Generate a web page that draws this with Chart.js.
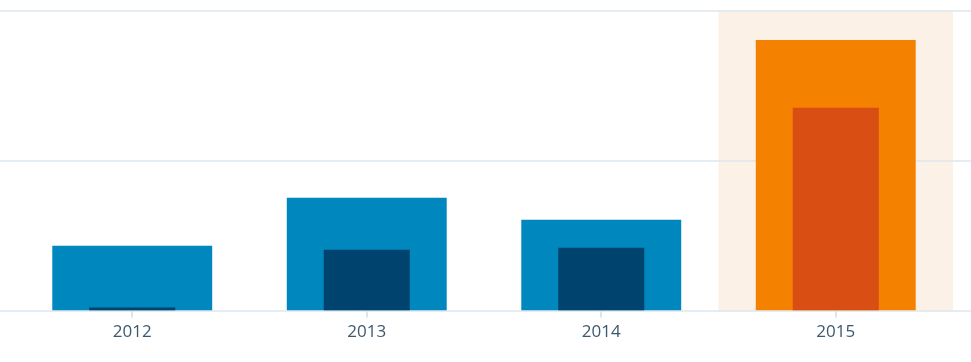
<!DOCTYPE html>
<html>
<head>
<meta charset="utf-8">
<script src="https://cdn.jsdelivr.net/npm/chart.js@4.4.0/dist/chart.umd.min.js"></script>
<style>
    html, body { margin: 0; padding: 0; background: #fff; }
    #wrap { width: 971px; height: 362px; }
</style>
</head>
<body>
<div id="wrap"><canvas id="statsChart"></canvas></div>
<script>
// data
const years = ['2012', '2013', '2014', '2015'];
const views = [65, 113, 91, 271];
const visitors = [3, 61, 63, 203];
const yTicks = [0, 150, 300];
const highlightIndex = 3;

const viewsColor = '#0087be';
const visitorsColor = '#00436e';
const viewsHighlight = '#f48200';
const visitorsHighlight = '#d94e12';

function colorsFor(base, hl) {
    return years.map((y, i) => i == highlightIndex ? hl : base);
}

// peach band behind the highlighted year + full width grid lines
const backdrop = {
    id: 'backdrop',
    beforeDatasetsDraw(chart) {
        const ctx = chart.ctx;
        const x = chart.scales.x;
        const y = chart.scales.y;
        const area = chart.chartArea;
        const catWidth = (area.right - area.left) / years.length;
        const cx = x.getPixelForValue(highlightIndex);

        ctx.save();
        ctx.fillStyle = '#fcf1e7';
        ctx.fillRect(cx - catWidth / 2, area.top, catWidth, area.bottom - area.top);

        ctx.strokeStyle = 'rgba(220, 229, 236, 0.7)';
        ctx.lineWidth = 2;
        yTicks.forEach(v => {
            const py = Math.round(y.getPixelForValue(v));
            ctx.beginPath();
            ctx.moveTo(0, py);
            ctx.lineTo(chart.width, py);
            ctx.stroke();
        });
        ctx.restore();
    }
};

const ctx = document.getElementById('statsChart');
new Chart(ctx, {
    type: 'bar',
    data: {
        labels: years,
        datasets: [{
            label: 'Visitors',
            data: visitors,
            backgroundColor: colorsFor(visitorsColor, visitorsHighlight),
            barPercentage: 0.367,
            categoryPercentage: 1,
            grouped: false,
            order: 0
        }, {
            label: 'Views',
            data: views,
            backgroundColor: colorsFor(viewsColor, viewsHighlight),
            barPercentage: 0.682,
            categoryPercentage: 1,
            grouped: false,
            order: 1
        }]
    },
    options: {
        responsive: true,
        maintainAspectRatio: false,
        animation: false,
        layout: {
            padding: { top: 11, left: 15, right: 18, bottom: 16 }
        },
        plugins: {
            legend: { display: false },
            tooltip: { enabled: false }
        },
        scales: {
            x: {
                border: { display: false },
                grid: {
                    offset: false,
                    drawOnChartArea: false,
                    tickLength: 7,
                    lineWidth: 2,
                    color: '#dde4ea'
                },
                ticks: {
                    color: '#3d596d',
                    padding: 4,
                    font: { family: '"Open Sans"', size: 17 }
                }
            },
            y: {
                display: false,
                min: 0,
                max: 300,
                afterBuildTicks: axis => {
                    axis.ticks = yTicks.map(v => ({ value: v }));
                }
            }
        }
    },
    plugins: [backdrop]
});
</script>
</body>
</html>
